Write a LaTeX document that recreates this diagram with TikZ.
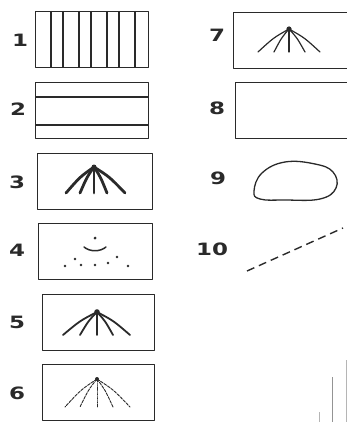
\documentclass[tikz,border=0pt]{standalone}
\usepackage{fontspec}
\newfontfamily\labfont[FakeStretch=1.35]{DejaVu Sans}
\definecolor{ink}{HTML}{2A2A2A}
\tikzset{
  box/.style={draw=ink, line width=1.3pt, minimum width=#1, minimum height=56pt, anchor=north west, inner sep=0pt},
  box/.default=113pt,
  lab/.style={font=\labfont\bfseries\fontsize{17}{17}\selectfont, text=ink, inner sep=0pt},
  rib/.style={draw=ink, line width=1.1pt},
  fanline/.style={draw=ink, line cap=round},
}
\newcommand{\fanlines}[4]{% apex name, list of dx, height, style
  \foreach \dx in {#2}{
    \draw[fanline,#4] (#1) .. controls ($(#1)+(0.5*\dx,0.38*#3)$) .. ($(#1)+(\dx,#3)$);
  }}
\usetikzlibrary{calc}
\begin{document}
\begin{tikzpicture}[x=1pt,y=-1pt,line join=round]
\useasboundingbox (0,0) rectangle (347,422);
\clip (0,0) rectangle (347,422);

% labels
\node[lab] (l1) at (20,40) {1};
\node[lab] (l2) at (18,109) {2};
\node[lab] (l3) at (17,182) {3};
\node[lab] (l4) at (17,250) {4};
\node[lab] (l5) at (17,322) {5};
\node[lab] (l6) at (17,393) {6};
\node[lab] (l7) at (217,35) {7};
\node[lab] (l8) at (217,108) {8};
\node[lab] (l9) at (218,178) {9};
\node[lab] (l10) at (212,249) {10};

% box 1
\node[box] (b1) at (35,11) {};
\foreach \x in {51,63,79,91,107,119,135}{
  \draw[rib] (\x,11) -- (\x,67);
}
% box 2
\node[box] (b2) at (35,82) {};
\draw[rib] (35,97) -- (148,97);
\draw[rib] (35,125) -- (148,125);

% box 3
\node[box=115pt] (b3) at (37,153) {};
\coordinate (a3) at (94,167);
\fanlines{a3}{-28,-14,0,13,31}{26}{line width=2.8pt}
\fill[ink] (a3) circle (2.5pt);

% box 4
\node[box=114pt] (b4) at (38,223) {};
\coordinate (p4) at (95,238);
\fill[ink] (p4) circle (1.5pt);
\draw[ink, line width=1.5pt, line cap=round] (84,247) .. controls (90,252) and (100,252) .. (106,247);
\foreach \px/\py in {65/266,75/259,81/265,95/265,108/263,117/257,128/266}{
  \fill[ink] (\px,\py) circle (1.4pt);
}

% box 5
\node[box=112pt] (b5) at (42,294) {};
\coordinate (a5) at (97,312);
\fanlines{a5}{-34,-17,0,16,33}{23}{line width=1.8pt}
\fill[ink] (a5) circle (2.8pt);

% box 6
\node[box=112pt] (b6) at (42,364) {};
\coordinate (a6) at (97,379);
\fanlines{a6}{-32,-17,0,16,33}{28}{line width=0.9pt, dash pattern=on 3pt off 1.2pt}
\fill[ink] (a6) circle (2pt);

% box 7
\node[box=130pt] (b7) at (233,12) {};
\coordinate (a7) at (289,29);
\fanlines{a7}{-31,-15,0,16,31}{23}{line width=1.2pt}
\fill[ink] (a7) circle (2.6pt);

% box 8
\node[box=130pt] (b8) at (235,82) {};

% blob 9
\draw[ink, line width=1.3pt] plot[smooth cycle, tension=0.7] coordinates {
  (254,191) (262,173) (285,162) (315,164) (333,172) (336,188) (320,199) (285,200) (260,199)};

% dashed line 10
\coordinate (d1) at (247,271);
\coordinate (d2) at (343,228);
\draw[ink, line width=1.4pt, dash pattern=on 8pt off 5pt] (d1) -- (d2);

% cropped marks bottom right
\draw[ink!50, line width=1pt] (332,377) -- (332,422);
\draw[ink!35, line width=0.8pt] (319,412) -- (319,422);
\draw[ink!35, line width=0.8pt] (346,360) -- (346,422);
\end{tikzpicture}
\end{document}
